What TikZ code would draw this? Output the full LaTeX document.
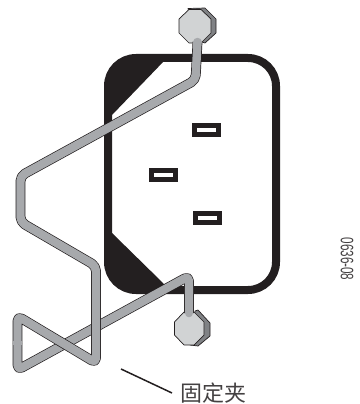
\documentclass[tikz,border=0pt]{standalone}
\usepackage{fontspec}
\setmainfont{Liberation Sans}
\newfontfamily\cjk{Noto Sans CJK SC}
\definecolor{wirefill}{HTML}{A7A9AC}
\definecolor{ink}{HTML}{231F20}
\definecolor{boltface}{HTML}{D1D3D4}
\definecolor{boltside}{HTML}{808285}
\tikzset{
  housing/.style={draw=ink,line width=8pt,rounded corners=28pt},
  wedge/.style={fill=ink,draw=none},
  wire/.style={line width=.7pt,draw=ink,double=wirefill,double distance=8.4pt,rounded corners=5pt,line join=round},
  wiretip/.style={line width=8.4pt,draw=wirefill,line cap=round},
  wirepatch/.style={line width=8.4pt,draw=wirefill},
  slotbox/.style={draw=ink,fill=white,line width=5pt},
  boltfacestyle/.style={fill=boltface,draw=ink,line width=.7pt,line join=round},
  boltsidestyle/.style={fill=boltside,draw=ink,line width=.7pt,line join=round},
}
\begin{document}
\begin{tikzpicture}[x=1pt,y=-1pt]
\useasboundingbox (0,0) rectangle (359,404);
% housing
\draw[housing] (108,58) rectangle (276,290);
\fill[wedge] (165,60) -- (135,58) to[out=180,in=90] (108,86) -- (108,118) -- (112,115) -- cycle;
\fill[wedge] (112,233) -- (108,233) -- (108,262) to[out=270,in=180] (136,290) -- (168,290) -- (163,283) -- cycle;
% slots
\draw[slotbox] (194.5,125.5) rectangle (218.5,134.5);
\draw[slotbox] (151.5,170) rectangle (175.5,179);
\draw[slotbox] (195.5,213.5) rectangle (219.5,222.5);
% top bolt
\draw[boltsidestyle] (188,8.5) -- (205,8) -- (216,19) -- (216,33) -- (205,43) -- (196,40) -- cycle;
\draw[boltfacestyle] (189,9.5) -- (201,9.5) -- (211,19) -- (211,33) -- (201,43) -- (189,43) -- (179,33) -- (179,19) -- cycle;
% bottom bolt
\draw[boltsidestyle] (195,311) -- (198,310) -- (210,323) -- (210,336) -- (198,346) -- (190,345) -- cycle;
\draw[boltfacestyle] (184,312) -- (194,312) -- (204,322) -- (204,335) -- (194,345) -- (184,345) -- (174.5,335) -- (174.5,322) -- cycle;
% wire
\coordinate (t0) at (197.5,42);
\coordinate (t1) at (195.5,80);
\coordinate (a1) at (20.5,176);
\coordinate (a2) at (20.5,222);
\coordinate (a3) at (96,266);
\coordinate (a4) at (96,363);
\coordinate (a5) at (17.5,316);
\coordinate (m) at (17.5,343);
\coordinate (a6) at (17.5,370);
\coordinate (a7) at (189,276);
\coordinate (b0) at (189,313);
\draw[wire] (m) -- (a6) -- (a7) -- (b0);
\draw[wire] (t0) -- (t1) -- (a1) -- (a2) -- (a3) -- (a4) -- (a5) -- (m);
\draw[wirepatch] ([yshift=2pt]m) -- ([yshift=-2pt]m);
\draw[wiretip] (t0) -- +(0,.1);
\draw[wiretip] (b0) -- +(0,.1);
% leader and labels
\node[inner sep=0pt,anchor=west,text=ink!85,font=\cjk\fontsize{22}{22}\selectfont] (lbl) at (180,393) {固定夹};
\coordinate (ls) at (121,369);
\coordinate (le) at (172,393);
\draw[ink,line width=1.5pt] (ls) -- (le);
\node[inner sep=0pt,rotate=-90,text=ink!85,font=\fontsize{18}{18}\selectfont,anchor=center] (code) at (347,259) {\scalebox{.65}[1]{0636-08}};
\end{tikzpicture}
\end{document}
